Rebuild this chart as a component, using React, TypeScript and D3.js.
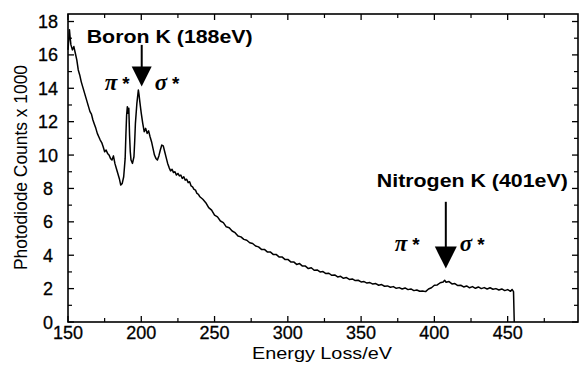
import React from "react";
import * as d3 from "d3";

// tick values
const xTickLabels = [150, 200, 250, 300, 350, 400, 450];
const xMinorTicks = [175, 225, 275, 325, 375, 425, 475];
const yTickLabels = [0, 2, 4, 6, 8, 10, 12, 14, 16, 18];
const yMinorTicks = [1, 3, 5, 7, 9, 11, 13, 15, 17];

// spectrum, [energy loss eV, counts x 1000]
const preEdge: [number, number][] = [
  [150, 16.3], [150.5, 16.9], [151, 17.5], [151.5, 17.0], [152, 16.6], [153, 16.3],
  [154, 16.5], [155, 16.1], [156, 15.7], [157, 15.1], [158, 14.8], [159, 14.4],
  [160, 14.1], [161, 13.8], [162, 13.5], [163, 13.2], [164, 12.9], [165, 12.6],
  [166, 12.45], [167, 12.1], [168, 11.85], [169, 11.6], [170, 11.3], [171, 11.1],
  [172, 10.9], [173, 10.75], [174, 10.5], [175, 10.2], [176, 10.3], [177, 10.1],
  [178, 10.0], [179, 9.8], [180, 9.7], [181, 9.95], [182, 9.5], [183, 9.2],
  [184, 8.9], [185, 8.6], [186, 8.2],
];

const boronEdge: [number, number][] = [
  [187, 8.3], [188, 8.7], [189, 9.8], [189.5, 11.2], [190, 12.4], [190.5, 12.9],
  [191, 12.5], [191.5, 12.8], [192, 11.2], [192.5, 10.2], [193, 9.7], [194, 9.5],
  [195, 9.9], [195.5, 10.8], [196, 11.9], [197, 13.1], [197.5, 13.5], [198, 13.9],
  [198.5, 13.6], [199, 13.2], [200, 12.5], [201, 11.9], [202, 11.4], [203, 11.6],
  [204, 11.3], [205, 11.45], [206, 11.1], [207, 10.8], [208, 10.4], [209, 10.0],
  [210, 9.8], [211, 9.7], [212, 9.95], [213, 10.3], [214, 10.6], [215, 10.55],
  [216, 10.2], [217, 9.85], [218, 9.5], [219, 9.25], [220, 9.05], [221, 9.15],
  [222, 8.95], [223, 9.0], [224, 8.8], [225, 8.9], [226, 8.75], [227, 8.8],
  [228, 8.6], [229, 8.7], [230, 8.5], [231, 8.55], [232, 8.35], [233, 8.4],
  [234, 8.15], [235, 8.1], [236, 7.95], [237, 7.9], [238, 7.7], [239, 7.65],
  [240, 7.5],
];

const background: [number, number][] = [
  [242, 7.35], [244, 7.15], [246, 6.85], [248, 6.7], [250, 6.4], [252, 6.3],
  [254, 6.05], [256, 5.95], [258, 5.7], [260, 5.65], [262, 5.45], [264, 5.35],
  [266, 5.15], [268, 5.1], [270, 4.95], [272, 4.9], [274, 4.75], [276, 4.7],
  [278, 4.55], [280, 4.5], [282, 4.35], [284, 4.35], [286, 4.2], [288, 4.2],
  [290, 4.05], [292, 4.05], [294, 3.9], [296, 3.9], [298, 3.75], [300, 3.75],
  [302, 3.6], [304, 3.6], [306, 3.45], [308, 3.5], [310, 3.35], [312, 3.35],
  [314, 3.2], [316, 3.25], [318, 3.1], [320, 3.12], [322, 3.0], [324, 3.02],
  [326, 2.9], [328, 2.92], [330, 2.8], [332, 2.82], [334, 2.7], [336, 2.74],
  [338, 2.62], [340, 2.66], [342, 2.55], [344, 2.58], [346, 2.48], [348, 2.5],
  [350, 2.4], [352, 2.42], [354, 2.33], [356, 2.36], [358, 2.27], [360, 2.3],
  [362, 2.2], [364, 2.24], [366, 2.14], [368, 2.16], [370, 2.08], [372, 2.12],
  [374, 2.02], [376, 2.06], [378, 1.98], [380, 2.04], [382, 1.94], [384, 1.98],
  [386, 1.88], [388, 1.92], [390, 1.84],
];

const nitrogenEdge: [number, number][] = [
  [392, 1.86], [394, 1.82], [396, 1.98], [398, 2.05], [400, 2.2], [402, 2.22],
  [404, 2.35], [406, 2.4], [407, 2.5], [408, 2.38], [410, 2.42], [412, 2.28],
  [414, 2.3], [416, 2.18], [418, 2.2], [420, 2.1], [422, 2.16], [424, 2.05],
  [426, 2.12], [428, 2.02], [430, 2.1], [432, 2.0], [434, 2.06], [436, 1.98],
  [438, 2.05], [440, 1.96], [442, 2.0], [444, 1.92], [446, 1.98], [448, 1.88],
  [450, 1.94], [452, 1.84], [453, 1.95], [454, 1.82], [454.5, 0],
];

const edgeLabels = ["Boron K (188eV)", "Nitrogen K (401eV)"];

const W = 580;
const H = 365;
const sans = "'Liberation Sans', Arial, Helvetica, sans-serif";
const serif = "'Liberation Serif', 'Times New Roman', serif";

function StarLabel({ x, y, sym }: { x: number; y: number; sym: string }) {
  return (
    <text x={x} y={y} fontWeight="bold">
      <tspan fontFamily={serif} fontStyle="italic" fontSize={23}>{sym}</tspan>
      <tspan fontFamily={sans} fontSize={19} dx={5}>*</tspan>
    </text>
  );
}

export default function App() {
  const x = d3.scaleLinear().domain([150, 498]).range([68, 578]);
  const y = d3.scaleLinear().domain([0, 18.45]).range([322, 14]);
  const [x0, x1] = x.range();
  const [y0, y1] = y.range();

  const spectrum = [...preEdge, ...boronEdge, ...background, ...nitrogenEdge];
  const line = d3
    .line<[number, number]>()
    .x((d) => x(d[0]))
    .y((d) => y(d[1]));

  // arrow annotations (data units + label offsets in px)
  const arrows = [
    { e: 200.3, top: 16.6, tip: 14.1, head: 20, label: edgeLabels[0], lx: -55, ly: 43, lw: 166, pi: -37, sig: 13, sy: 3 },
    { e: 407.8, top: 7.2, tip: 3.2, head: 22, label: edgeLabels[1], lx: -69, ly: 187, lw: 191, pi: -51, sig: 14, sy: -18 },
  ];

  return (
    <svg
      width={W}
      height={H}
      style={{ position: "absolute", left: 0, top: 0, background: "#fff" }}
      fontFamily={sans}
    >
      {/* spectrum */}
      <path d={line(spectrum) || ""} fill="none" stroke="#000" strokeWidth={1.5} strokeLinejoin="round" />

      {/* frame */}
      <rect x={x0} y={y1} width={x1 - x0} height={y0 - y1} fill="none" stroke="#000" strokeWidth={1.6} />

      {/* x ticks, bottom and top, inward */}
      {xTickLabels.map((t) => (
        <g key={"xt" + t}>
          <line x1={x(t)} x2={x(t)} y1={y0} y2={y0 - 6} stroke="#000" strokeWidth={1.3} />
          <line x1={x(t)} x2={x(t)} y1={y1} y2={y1 + 6} stroke="#000" strokeWidth={1.3} />
          <text x={x(t)} y={339} textAnchor="middle" fontSize={18} stroke="#000" strokeWidth={0.3}>
            {t}
          </text>
        </g>
      ))}
      {xMinorTicks.map((t) => (
        <g key={"xm" + t}>
          <line x1={x(t)} x2={x(t)} y1={y0} y2={y0 - 4} stroke="#000" strokeWidth={1.2} />
          <line x1={x(t)} x2={x(t)} y1={y1} y2={y1 + 4} stroke="#000" strokeWidth={1.2} />
        </g>
      ))}

      {/* y ticks, left and right, inward */}
      {yTickLabels.map((t) => (
        <g key={"yt" + t}>
          <line x1={x0} x2={x0 + 6} y1={y(t)} y2={y(t)} stroke="#000" strokeWidth={1.3} />
          <line x1={x1} x2={x1 - 6} y1={y(t)} y2={y(t)} stroke="#000" strokeWidth={1.3} />
          <text x={48} y={y(t) + 6.5} textAnchor="middle" fontSize={18} stroke="#000" strokeWidth={0.3}>
            {t}
          </text>
        </g>
      ))}
      {yMinorTicks.map((t) => (
        <g key={"ym" + t}>
          <line x1={x0} x2={x0 + 4} y1={y(t)} y2={y(t)} stroke="#000" strokeWidth={1.2} />
          <line x1={x1} x2={x1 - 4} y1={y(t)} y2={y(t)} stroke="#000" strokeWidth={1.2} />
        </g>
      ))}

      {/* axis titles */}
      <text
        x={322}
        y={359}
        textAnchor="middle"
        fontSize={17}
        textLength={140}
        lengthAdjust="spacingAndGlyphs"
      >
        Energy Loss/eV
      </text>
      <text
        transform="translate(27,167.5) rotate(-90)"
        textAnchor="middle"
        fontSize={17.5}
        textLength={205}
        lengthAdjust="spacingAndGlyphs"
      >
        Photodiode Counts x 1000
      </text>

      {/* edge annotations */}
      {arrows.map((a) => {
        const ax = x(a.e);
        const tipY = y(a.tip);
        const headY = tipY - a.head;
        return (
          <g key={a.label}>
            <line x1={ax} x2={ax} y1={y(a.top)} y2={headY + 1} stroke="#000" strokeWidth={2} />
            <path
              d={`M${ax - a.head / 2},${headY}L${ax + a.head / 2},${headY}L${ax},${tipY}Z`}
              fill="#000"
            />
            <text
              x={ax + a.lx}
              y={a.ly}
              fontSize={19}
              fontWeight="bold"
              textLength={a.lw}
              lengthAdjust="spacingAndGlyphs"
            >
              {a.label}
            </text>
            <StarLabel x={ax + a.pi} y={tipY + a.sy} sym="π" />
            <StarLabel x={ax + a.sig} y={tipY + a.sy} sym="σ" />
          </g>
        );
      })}
    </svg>
  );
}
